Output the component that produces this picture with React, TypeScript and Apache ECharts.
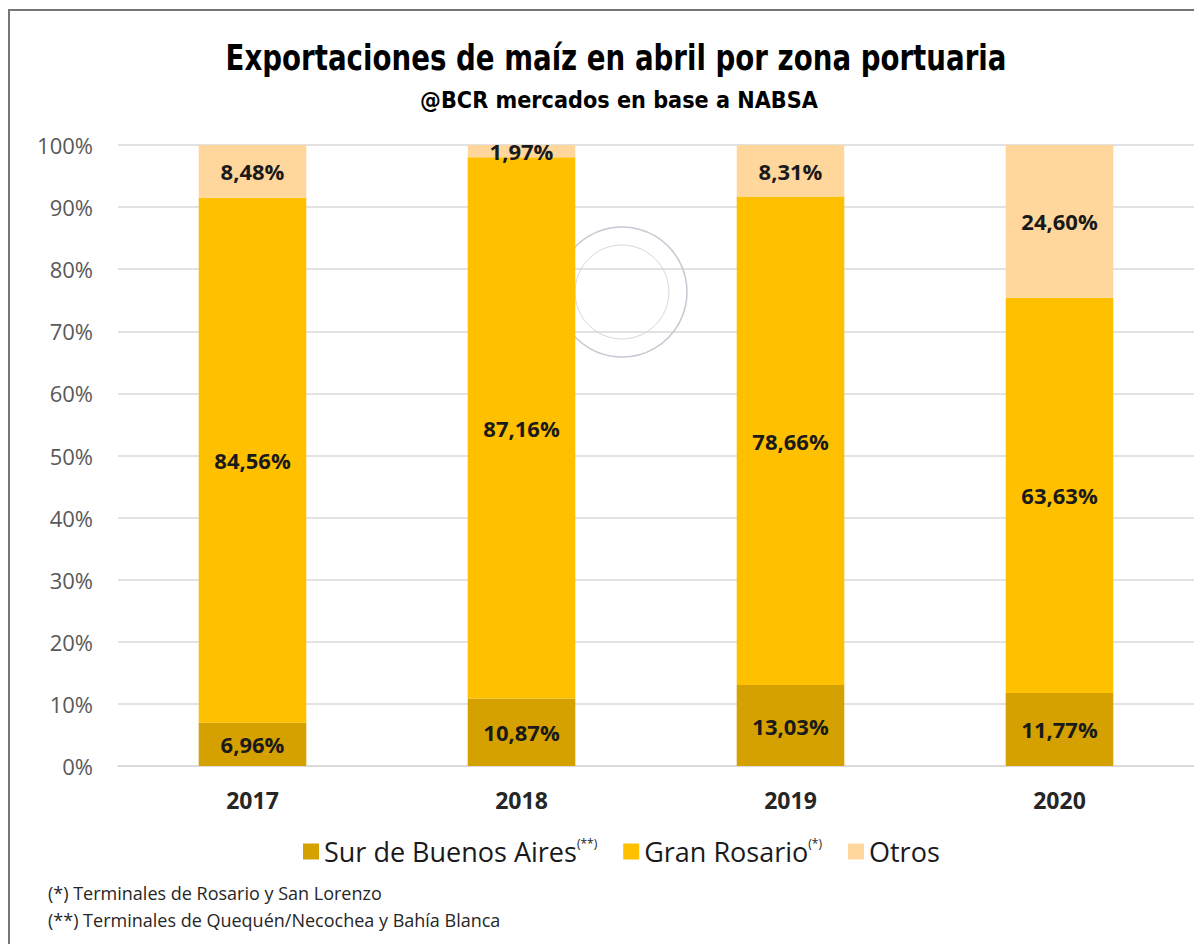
import React, { useEffect, useRef } from "react";
import * as echarts from "echarts";

const years = ["2017", "2018", "2019", "2020"];
const surBuenosAires = [6.96, 10.87, 13.03, 11.77];
const granRosario = [84.56, 87.16, 78.66, 63.63];
const otros = [8.48, 1.97, 8.31, 24.6];
const yTicks = [0, 10, 20, 30, 40, 50, 60, 70, 80, 90, 100];

const fmt = (v: number) => v.toFixed(2).replace(".", ",") + "%";

const measure = (text: string, font: string) => {
  const c = document.createElement("canvas").getContext("2d")!;
  c.font = font;
  return c.measureText(text).width;
};

export default function App() {
  const ref = useRef<HTMLDivElement>(null);
  useEffect(() => {
    const chart = echarts.init(ref.current!, null, { renderer: "svg" });
    const titleText = "Exportaciones de maíz en abril por zona portuaria";
    const titleFont = "bold 36px 'DejaVu Sans Condensed', 'DejaVu Sans'";
    const subText = "@BCR mercados en base a NABSA";
    const subFont = "bold 23px 'DejaVu Sans Condensed', 'DejaVu Sans'";
    const tScale = 781 / measure(titleText, titleFont);
    const sScale = 398 / measure(subText, subFont);
    const labelStyle = {
      show: true,
      position: "inside" as const,
      fontFamily: "Open Sans",
      fontWeight: "bold" as const,
      fontSize: 22,
      color: "#1a1a1a",
      formatter: (p: any) => fmt(p.value),
    };
    const mk = (name: string, data: number[], color: string) => ({
      name,
      type: "bar",
      stack: "total",
      data,
      barCategoryGap: "60%",
      itemStyle: { color },
      label: labelStyle,
      z: 3,
    });
    chart.setOption({
      animation: false,
      backgroundColor: "#ffffff",
      textStyle: { fontFamily: "Open Sans" },
      grid: { left: 118, right: 0, top: 145, bottom: 944 - 766 },
      xAxis: {
        type: "category",
        data: years,
        axisLine: { lineStyle: { color: "#d9d9d9", width: 1.5 } },
        axisTick: { show: false },
        axisLabel: {
          fontFamily: "Open Sans",
          fontWeight: "bold",
          fontSize: 23,
          color: "#262626",
          margin: 22,
        },
      },
      yAxis: {
        type: "value",
        min: yTicks[0],
        max: yTicks[yTicks.length - 1],
        interval: 10,
        axisLabel: {
          formatter: "{value}%",
          fontFamily: "Open Sans",
          fontSize: 22,
          color: "#595959",
          margin: 25,
        },
        splitLine: { lineStyle: { color: "#d9d9d9", width: 1.5 } },
      },
      legend: {
        bottom: 944 - 870,
        left: 298,
        itemWidth: 16,
        itemHeight: 16,
        itemGap: 26,
        icon: "rect",
        data: ["Sur de Buenos Aires", "Gran Rosario", "Otros"],
        formatter: (n: string) =>
          n === "Sur de Buenos Aires"
            ? "{n|" + n + "}{s|(**)}"
            : n === "Gran Rosario"
            ? "{n|" + n + "}{s|(*)}"
            : "{n|" + n + "}",
        textStyle: {
          rich: {
            n: { fontFamily: "Open Sans", fontSize: 27, color: "#1a1a1a" },
            s: {
              fontFamily: "Open Sans",
              fontSize: 12,
              color: "#1a1a1a",
              verticalAlign: "top",
              padding: [0, 0, 16, 0],
            },
          },
        },
      },
      graphic: [
        {
          type: "circle",
          shape: { cx: 622, cy: 292, r: 65 },
          style: { fill: "none", stroke: "#c4c8d2", lineWidth: 1.5 },
          silent: true,
          z: 1,
        },
        {
          type: "circle",
          shape: { cx: 622, cy: 292, r: 47 },
          style: { fill: "none", stroke: "#d4d7de", lineWidth: 1 },
          silent: true,
          z: 1,
        },
        {
          type: "rect",
          shape: { x: 9, y: 10, width: 1300, height: 1100 },
          style: { fill: "none", stroke: "#767676", lineWidth: 2 },
          silent: true,
          z: 10,
        },
        {
          type: "text",
          x: 616,
          y: 58,
          scaleX: tScale,
          style: {
            text: titleText,
            font: titleFont,
            fill: "#000",
            textAlign: "center",
            textVerticalAlign: "middle",
          },
        },
        {
          type: "text",
          x: 619,
          y: 100,
          scaleX: sScale,
          style: {
            text: subText,
            font: subFont,
            fill: "#000",
            textAlign: "center",
            textVerticalAlign: "middle",
          },
        },
        {
          type: "text",
          left: 48,
          top: 884,
          style: {
            text: "(*) Terminales de Rosario y San Lorenzo",
            font: "18px 'Open Sans'",
            fill: "#262626",
          },
        },
        {
          type: "text",
          left: 48,
          top: 911,
          style: {
            text: "(**) Terminales de Quequén/Necochea y Bahía Blanca",
            font: "18px 'Open Sans'",
            fill: "#262626",
          },
        },
      ],
      series: [
        mk("Sur de Buenos Aires", surBuenosAires, "#D4A100"),
        mk("Gran Rosario", granRosario, "#FFC000"),
        mk("Otros", otros, "#FFD79D"),
      ],
    });
    return () => chart.dispose();
  }, []);
  return (
    <div
      ref={ref}
      style={{ position: "fixed", left: 0, top: 0, width: 1194, height: 944 }}
    />
  );
}
